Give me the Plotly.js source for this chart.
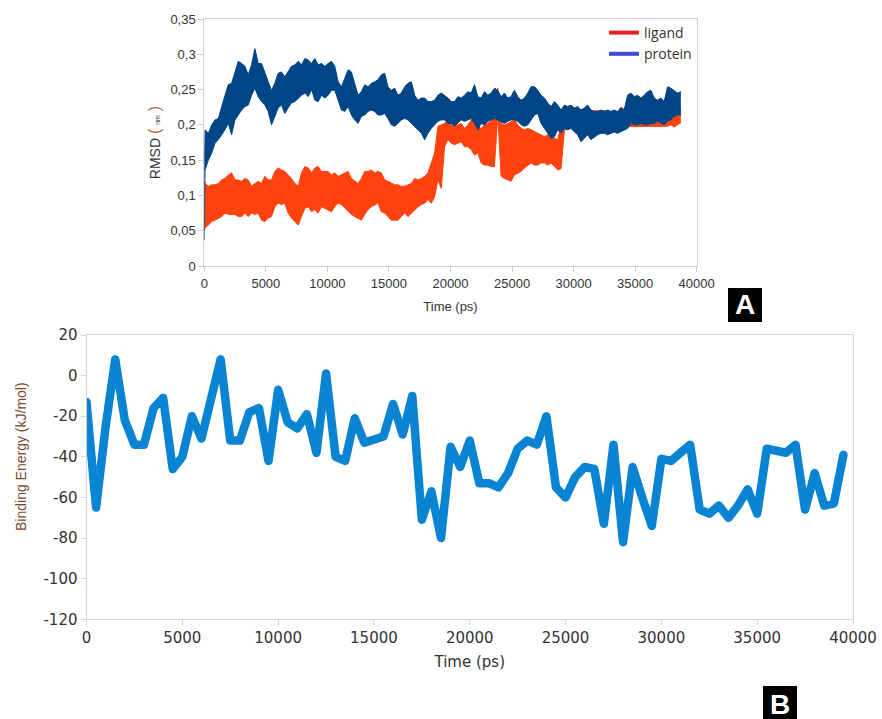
<!DOCTYPE html>
<html>
<head>
<meta charset="utf-8">
<script src="https://cdn.plot.ly/plotly-3.0.1.min.js"></script>
<style>
html,body{margin:0;padding:0;background:#fff;}
#chart{width:882px;height:719px;}
.scatterlayer .js-line{stroke-linejoin:round;stroke-linecap:round;}
</style>
</head>
<body>
<div id="chart"></div>
<script>
// ---------- Panel A: RMSD (envelope of the noisy traces) ----------
const rmsdTime = [0,60,330,600,870,1140,1410,1680,1950,2220,2490,2760,3030,3300,3570,3840,4110,4380,4650,4920,5190,5460,5730,6000,6270,6540,6810,7080,7360,7630,7900,8170,8440,8710,8980,9250,9520,9790,10060,10330,10600,10870,11140,11410,11680,11950,12220,12490,12760,13030,13300,13570,13840,14110,14380,14650,14920,15190,15460,15730,16000,16280,16550,16820,17090,17360,17630,17900,18170,18440,18710,18980,19250,19520,19790,20060,20330,20600,20870,21140,21410,21680,21950,22220,22490,22760,23030,23300,23570,23840,24110,24380,24650,24920,25190,25470,25740,26010,26280,26550,26820,27090,27360,27630,27900,28170,28440,28710,28980,29250,29520,29790,30060,30330,30600,30870,31140,31410,31680,31950,32220,32490,32760,33030,33300,33570,33840,34110,34380,34660,34930,35200,35470,35740,36010,36280,36550,36820,37090,37360,37630,37900,38170,38440,38710];

const ligandUpper = [0.120,
0.117,0.113,0.115,0.115,0.117,0.122,0.124,0.129,0.132,0.122,0.122,0.120,0.124,0.122,0.113,0.117,0.120,0.117,0.127,0.122,0.122,0.134,0.139,0.136,0.134,0.129,0.124,0.117,0.113,0.132,0.141,0.139,0.132,0.139,0.141,0.134,0.134,
0.134,0.129,0.132,0.127,0.129,0.132,0.134,0.124,0.120,0.117,0.124,0.134,0.134,0.136,0.132,0.134,0.132,0.122,0.120,0.117,0.115,0.115,0.113,0.113,0.115,0.117,0.124,0.122,0.124,0.127,0.132,0.146,0.160,0.198,0.200,
0.202,0.207,0.200,0.198,0.200,0.202,0.195,0.200,0.207,0.209,0.198,0.195,0.200,0.202,0.205,0.214,0.252,0.202,0.200,0.202,0.205,0.207,0.200,0.195,0.193,0.195,0.193,0.190,0.188,0.186,0.183,0.186,0.183,0.181,0.179,0.200,
0.210,0.215,0.215,0.215,0.215,0.222,0.221,0.212,0.220,0.220,0.220,0.220,0.220,0.218,0.218,0.218,0.218,0.225,0.222,0.215,0.215,0.215,0.215,0.215,0.215,0.215,0.215,0.215,0.215,0.215,0.215,0.215,0.222,0.218,0.225,0.222];

const ligandLower = [0.050,
0.054,0.058,0.063,0.065,0.068,0.070,0.075,0.073,0.073,0.073,0.070,0.070,0.075,0.070,0.075,0.073,0.075,0.065,0.063,0.068,0.070,0.084,0.089,0.087,0.089,0.075,0.068,0.063,0.058,0.070,0.082,0.084,0.077,0.080,0.075,0.084,0.082,
0.080,0.077,0.084,0.089,0.087,0.082,0.077,0.073,0.070,0.068,0.065,0.073,0.080,0.084,0.087,0.089,0.077,0.075,0.070,0.065,0.065,0.065,0.070,0.075,0.070,0.075,0.080,0.084,0.087,0.089,0.094,0.089,0.098,0.122,0.110,
0.169,0.179,0.174,0.172,0.174,0.176,0.169,0.169,0.165,0.157,0.160,0.146,0.143,0.143,0.141,0.141,0.214,0.127,0.124,0.122,0.120,0.129,0.132,0.134,0.139,0.143,0.146,0.143,0.143,0.146,0.146,0.143,0.146,0.141,0.136,0.138,
0.192,0.195,0.195,0.195,0.195,0.195,0.196,0.195,0.197,0.197,0.197,0.197,0.197,0.198,0.198,0.198,0.198,0.198,0.198,0.197,0.197,0.197,0.197,0.197,0.197,0.197,0.197,0.197,0.197,0.197,0.197,0.198,0.200,0.197,0.200,0.203];

const proteinUpper = [0.135,
0.193,0.188,0.200,0.207,0.209,0.226,0.242,0.257,0.259,0.275,0.290,0.287,0.283,0.271,0.285,0.308,0.287,0.287,0.273,0.261,0.249,0.259,0.273,0.275,0.268,0.275,0.283,0.285,0.290,0.285,0.294,0.292,0.287,0.294,0.285,0.287,0.283,
0.287,0.290,0.283,0.261,0.254,0.266,0.278,0.275,0.259,0.242,0.247,0.257,0.254,0.259,0.261,0.264,0.271,0.273,0.254,0.249,0.252,0.242,0.245,0.254,0.259,0.261,0.242,0.235,0.238,0.238,0.233,0.233,0.235,0.242,0.245,
0.242,0.238,0.233,0.233,0.240,0.238,0.242,0.247,0.245,0.257,0.240,0.238,0.247,0.242,0.245,0.252,0.249,0.240,0.245,0.238,0.240,0.249,0.240,0.235,0.238,0.245,0.254,0.254,0.249,0.242,0.238,0.231,0.226,0.233,0.228,0.221,
0.228,0.226,0.228,0.224,0.226,0.221,0.224,0.228,0.221,0.219,0.219,0.221,0.219,0.221,0.219,0.221,0.219,0.224,0.221,0.242,0.245,0.240,0.242,0.238,0.242,0.247,0.249,0.238,0.235,0.238,0.233,0.254,0.252,0.249,0.245,0.247];

const proteinLower = [0.037,
0.136,0.150,0.160,0.174,0.179,0.186,0.193,0.202,0.186,0.207,0.214,0.221,0.226,0.228,0.242,0.252,0.240,0.233,0.228,0.219,0.200,0.212,0.224,0.228,0.216,0.224,0.231,0.233,0.238,0.242,0.245,0.240,0.250,0.235,0.233,0.242,0.238,
0.242,0.249,0.249,0.235,0.221,0.219,0.226,0.214,0.207,0.202,0.212,0.214,0.219,0.221,0.219,0.214,0.214,0.216,0.209,0.200,0.198,0.202,0.207,0.209,0.207,0.202,0.198,0.193,0.188,0.179,0.188,0.195,0.200,0.205,0.207,
0.207,0.202,0.202,0.198,0.202,0.207,0.205,0.207,0.209,0.202,0.193,0.202,0.200,0.205,0.207,0.209,0.207,0.205,0.202,0.205,0.207,0.207,0.205,0.200,0.198,0.200,0.207,0.214,0.216,0.202,0.195,0.188,0.181,0.183,0.193,0.188,
0.195,0.193,0.195,0.190,0.186,0.176,0.181,0.186,0.179,0.183,0.186,0.188,0.188,0.186,0.188,0.190,0.188,0.190,0.193,0.195,0.202,0.200,0.200,0.202,0.200,0.200,0.202,0.202,0.205,0.202,0.200,0.205,0.207,0.212,0.214,0.214];

const seriesNames = ['ligand','protein'];

// ---------- Panel B: binding energy ----------
const beTime = [0,500,1000,1500,2000,2500,3000,3500,4000,4500,5000,5500,6000,6500,7000,7500,8000,8500,9000,9500,10000,10500,11000,11500,12000,12500,13000,13500,14000,14500,15000,15500,16000,16500,17000,17500,18000,18500,19000,19500,20000,20500,21000,21500,22000,22500,23000,23500,24000,24500,25000,25500,26000,26500,27000,27500,28000,28500,29000,29500,30000,30500,31000,31500,32000,32500,33000,33500,34000,34500,35000,35500,36000,36500,37000,37500,38000,38500,39000,39500];
const bindingEnergy = [-13,-65,-25,8,-22,-34,-34,-16,-11,-46,-40,-20,-31,-12,8,-32,-32,-18,-16,-42,-7,-23,-26,-19,-38,1,-40,-42,-21,-33,-32,-30,-14,-29,-10,-71,-57,-80,-35,-45,-32,-53,-53,-55,-48,-36,-32,-34,-20,-55,-60,-50,-45,-46,-73,-34,-82,-45,-60,-74,-41,-42,-38,-34,-66,-68,-64,-70,-64,-56,-68,-36,-37,-38,-34,-66,-48,-64,-63,-39];

const rmsdYTicks = [0,0.05,0.1,0.15,0.2,0.25,0.3,0.35];
const rmsdYLabels = ['0','0,05','0,1','0,15','0,2','0,25','0,3','0,35'];
const timeTicks = [0,5000,10000,15000,20000,25000,30000,35000,40000];
const timeLabels = ['0','5000','10000','15000','20000','25000','30000','35000','40000'];
const beYTicks = [-120,-100,-80,-60,-40,-20,0,20];
const beYLabels = ['-120','-100','-80','-60','-40','-20','0','20'];

const LIG = '#ff420e', PROT = '#004586', BE = '#0984d3';
const W = 882, H = 719;
const px = v => v / W, py = v => 1 - v / H;

const traces = [
  {x: beTime, y: bindingEnergy, xaxis:'x2', yaxis:'y2', mode:'lines',
   line:{color:BE, width:8.5}, showlegend:false, hoverinfo:'skip'},
  {x: rmsdTime, y: ligandLower, xaxis:'x', yaxis:'y', mode:'lines',
   line:{color:LIG, width:1}, showlegend:false, hoverinfo:'skip'},
  {x: rmsdTime, y: ligandUpper, xaxis:'x', yaxis:'y', mode:'lines', fill:'tonexty', fillcolor:LIG,
   line:{color:LIG, width:1}, showlegend:false, hoverinfo:'skip'},
  {x: rmsdTime, y: proteinLower, xaxis:'x', yaxis:'y', mode:'lines',
   line:{color:PROT, width:1}, showlegend:false, hoverinfo:'skip'},
  {x: rmsdTime, y: proteinUpper, xaxis:'x', yaxis:'y', mode:'lines', fill:'tonexty', fillcolor:PROT,
   line:{color:PROT, width:1}, showlegend:false, hoverinfo:'skip'},
  {x:[null], y:[null], xaxis:'x', yaxis:'y', mode:'lines', name:seriesNames[0],
   line:{color:'#e8202a', width:4}},
  {x:[null], y:[null], xaxis:'x', yaxis:'y', mode:'lines', name:seriesNames[1],
   line:{color:'#3f4bd0', width:4}}
];

const axCommonTop = {
  showline:true, mirror:true, linecolor:'#cfcfcf', linewidth:1,
  ticks:'outside', ticklen:5, tickcolor:'#cfcfcf', tickwidth:1,
  showgrid:false, zeroline:false,
  tickfont:{family:'Liberation Sans, Arial, sans-serif', size:13, color:'#333'}
};
const axCommonBot = {
  showline:true, mirror:true, linecolor:'#d6d6d6', linewidth:1,
  ticks:'outside', ticklen:5, tickcolor:'#d6d6d6', tickwidth:1,
  showgrid:false, zeroline:false,
  tickfont:{family:'DejaVu Sans, sans-serif', size:15, color:'#333'}
};

const layout = {
  width:W, height:H, margin:{l:0, r:0, t:0, b:0},
  paper_bgcolor:'#fff', plot_bgcolor:'#fff',
  font:{family:'Liberation Sans, Arial, sans-serif', color:'#333'},
  showlegend:true,
  legend:{x:px(604), y:py(17), xanchor:'left', yanchor:'top', bgcolor:'rgba(0,0,0,0)',
          traceorder:'normal',
          font:{family:'Open Sans, sans-serif', size:14, color:'#333'}, tracegroupgap:0},
  xaxis: Object.assign({}, axCommonTop, {
    domain:[px(204.3), px(696.7)], anchor:'y', range:[0,40000],
    tickmode:'array', tickvals:timeTicks, ticktext:timeLabels,
    title:{text:'Time (ps)', font:{family:'Liberation Sans, Arial, sans-serif', size:13, color:'#333'}, standoff:12}
  }),
  yaxis: Object.assign({}, axCommonTop, {
    domain:[py(266), py(19)], anchor:'x', range:[0,0.35],
    tickmode:'array', tickvals:rmsdYTicks, ticktext:rmsdYLabels,
    title:{text:'RMSD <span style="color:#c0642a;font-size:16px">(</span> <span style="font-size:7px">nm</span> <span style="color:#c0642a;font-size:16px">)</span>',
           font:{family:'Liberation Sans, Arial, sans-serif', size:14, color:'#333'}, standoff:6}
  }),
  xaxis2: Object.assign({}, axCommonBot, {
    domain:[px(86.5), px(853)], anchor:'y2', range:[0,40000],
    tickmode:'array', tickvals:timeTicks, ticktext:timeLabels,
    title:{text:'Time (ps)', font:{family:'DejaVu Sans, sans-serif', size:15, color:'#333'}, standoff:10}
  }),
  yaxis2: Object.assign({}, axCommonBot, {
    domain:[py(619.3), py(335)], anchor:'x2', range:[-120,20],
    tickmode:'array', tickvals:beYTicks, ticktext:beYLabels
  }),
  shapes:[
    {type:'rect', xref:'paper', yref:'paper', x0:px(728), x1:px(762), y0:py(322), y1:py(288), fillcolor:'#000', line:{width:0}},
    {type:'rect', xref:'paper', yref:'paper', x0:px(763), x1:px(797), y0:py(720), y1:py(686), fillcolor:'#000', line:{width:0}}
  ],
  annotations:[
    {xref:'paper', yref:'paper', x:px(21), y:py(457), text:'Binding Energy (kJ/mol)', textangle:-90, showarrow:false,
     font:{family:'Liberation Sans Narrow, Liberation Sans, sans-serif', size:14, color:'#7a4a28'}, xanchor:'center', yanchor:'middle'},
    {xref:'paper', yref:'paper', x:px(745), y:py(305), text:'<b>A</b>', showarrow:false,
     font:{family:'Liberation Sans, Arial, sans-serif', size:28, color:'#fff'}, xanchor:'center', yanchor:'middle'},
    {xref:'paper', yref:'paper', x:px(780), y:py(704), text:'<b>B</b>', showarrow:false,
     font:{family:'Liberation Sans, Arial, sans-serif', size:28, color:'#fff'}, xanchor:'center', yanchor:'middle'}
  ]
};

Plotly.newPlot('chart', traces, layout, {displayModeBar:false, staticPlot:true});
</script>
</body>
</html>
